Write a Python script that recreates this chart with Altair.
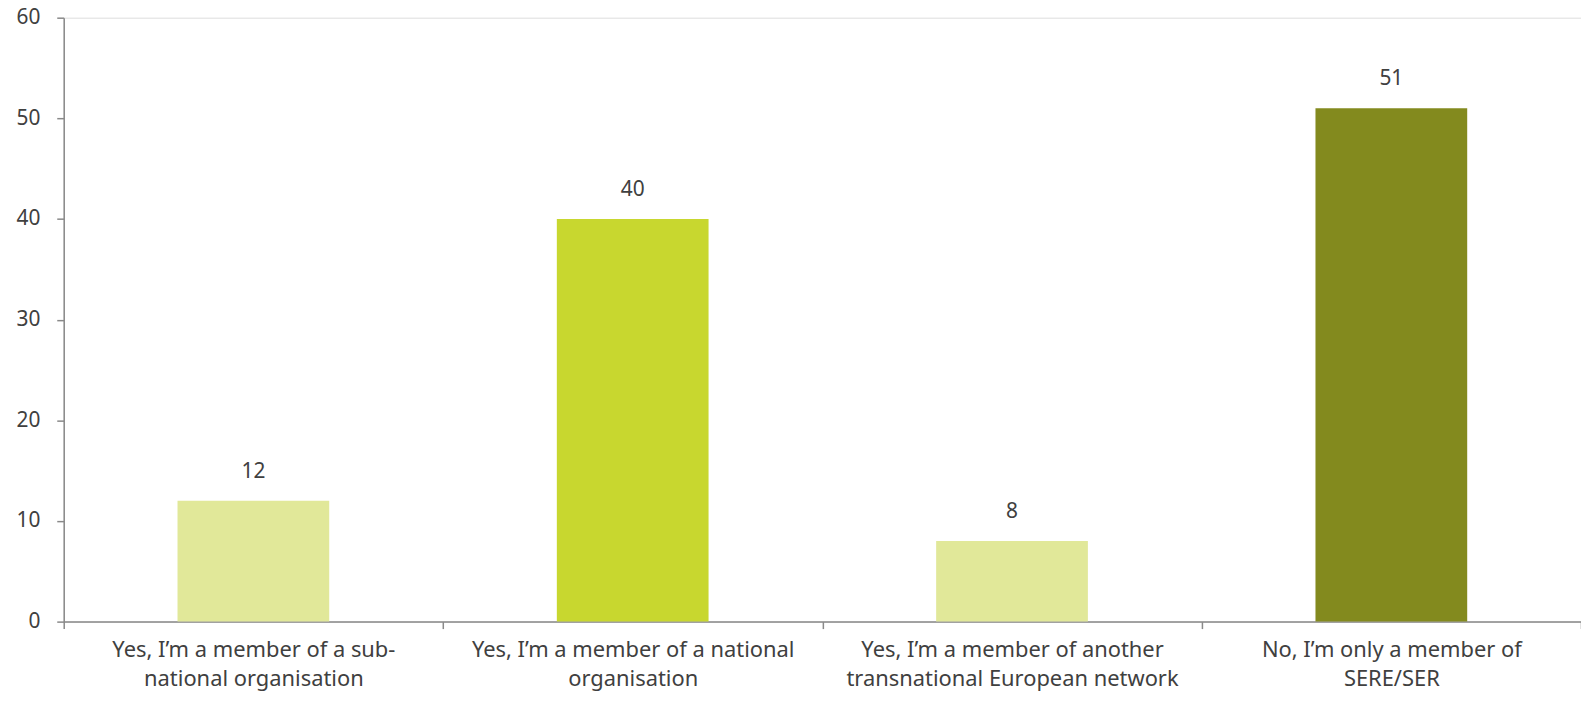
import altair as alt
import pandas as pd

categories = [
    "Yes, I’m a member of a sub-|national organisation",
    "Yes, I’m a member of a national|organisation",
    "Yes, I’m a member of another|transnational European network",
    "No, I’m only a member of|SERE/SER",
]
values = [12, 40, 8, 51]
bar_colors = ["#E1E899", "#C8D72F", "#E1E899", "#838A1E"]

df = pd.DataFrame({"category": categories, "value": values, "key": [str(i) for i in range(4)]})

FONT = "Noto Sans"
TXT = "#404040"
AX = "#898989"
FS = 21
FSX = 22

base = alt.Chart(df).encode(
    x=alt.X(
        "category:N",
        sort=categories,
        scale=alt.Scale(paddingInner=0, paddingOuter=0),
        axis=alt.Axis(
            title=None,
            labelAngle=0,
            labelExpr="split(datum.label, '|')",
            labelLimit=0,
            tickBand="extent",
            domainColor=AX,
            tickColor=AX,
            tickSize=7,
            domainWidth=1.5,
            tickWidth=1.5,
            labelFont=FONT,
            labelFontSize=FSX,
            labelColor=TXT,
            labelPadding=11,
            labelLineHeight=29,
            labelBaseline="top",
        ),
    ),
)

bars = base.mark_bar(width=alt.RelativeBandSize(0.4)).encode(
    y=alt.Y(
        "value:Q",
        scale=alt.Scale(domain=[0, 60]),
        axis=alt.Axis(
            title=None,
            values=[0, 10, 20, 30, 40, 50, 60],
            grid=False,
            domainColor=AX,
            tickColor=AX,
            tickSize=7,
            domainWidth=1.5,
            tickWidth=1.5,
            labelFont=FONT,
            labelFontSize=FS,
            labelColor=TXT,
            labelPadding=17,
        ),
    ),
    color=alt.Color("key:N", scale=alt.Scale(domain=["0", "1", "2", "3"], range=bar_colors), legend=None),
)

texts = base.mark_text(dy=-19, baseline="bottom", font=FONT, fontSize=FS, color=TXT).encode(
    y="value:Q",
    text="value:Q",
)

chart = (
    alt.layer(bars, texts)
    .properties(
        width=1525,
        height=607,
        autosize=alt.AutoSizeParams(type="none"),
        padding={"left": 56, "top": 8, "right": 0, "bottom": 70},
    )
    .configure_view(stroke=None)
    .configure(background="white")
)

chart.save("out.html", embed_options={"renderer": "svg", "actions": False})
